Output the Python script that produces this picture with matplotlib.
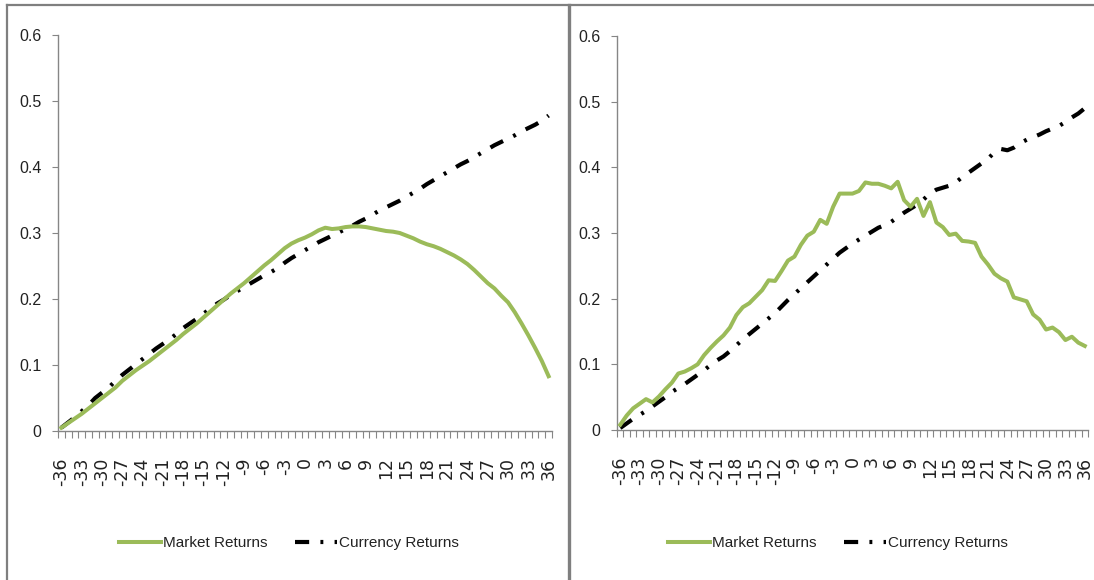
import numpy as np
import matplotlib
matplotlib.use("Agg")
import matplotlib.pyplot as plt
from matplotlib.lines import Line2D
from matplotlib.ticker import FixedLocator, FuncFormatter

# months relative to the event, -36 .. 36
months = list(range(-36, 37))

# panel 1
market_1 = [0.005, 0.012, 0.019, 0.026, 0.034, 0.042, 0.050, 0.058, 0.066, 0.076,
            0.084, 0.092, 0.099, 0.106, 0.114, 0.122, 0.130, 0.138, 0.147, 0.155,
            0.163, 0.172, 0.181, 0.190, 0.199, 0.208, 0.216, 0.224, 0.233, 0.242,
            0.251, 0.259, 0.268, 0.277, 0.284, 0.289, 0.293, 0.298, 0.304, 0.308,
            0.306, 0.307, 0.309, 0.310, 0.310, 0.309, 0.307, 0.305, 0.303, 0.302,
            0.300, 0.296, 0.292, 0.287, 0.283, 0.280, 0.276, 0.271, 0.266, 0.260,
            0.253, 0.244, 0.234, 0.224, 0.216, 0.205, 0.195, 0.180, 0.163, 0.145,
            0.126, 0.106, 0.083]
currency_1 = [0.005, 0.013, 0.021, 0.030, 0.039, 0.050, 0.058, 0.066, 0.076, 0.085,
              0.093, 0.101, 0.109, 0.117, 0.125, 0.132, 0.139, 0.147, 0.156, 0.163,
              0.170, 0.178, 0.185, 0.193, 0.199, 0.206, 0.212, 0.218, 0.224, 0.230,
              0.236, 0.241, 0.247, 0.255, 0.262, 0.268, 0.274, 0.280, 0.286, 0.291,
              0.296, 0.301, 0.306, 0.311, 0.317, 0.322, 0.328, 0.334, 0.339, 0.344,
              0.349, 0.355, 0.361, 0.367, 0.374, 0.380, 0.386, 0.392, 0.398, 0.404,
              0.409, 0.415, 0.421, 0.427, 0.433, 0.438, 0.443, 0.448, 0.454, 0.459,
              0.464, 0.470, 0.478]

# panel 2
market_2 = [0.008, 0.022, 0.033, 0.040, 0.047, 0.042, 0.051, 0.062, 0.072, 0.086,
            0.089, 0.094, 0.100, 0.114, 0.125, 0.135, 0.144, 0.156, 0.175, 0.187,
            0.193, 0.203, 0.213, 0.228, 0.227, 0.242, 0.258, 0.264, 0.282, 0.296,
            0.302, 0.320, 0.314, 0.340, 0.360, 0.360, 0.360, 0.364, 0.377, 0.375,
            0.375, 0.372, 0.368, 0.378, 0.350, 0.340, 0.352, 0.326, 0.347, 0.316,
            0.309, 0.297, 0.299, 0.288, 0.287, 0.285, 0.264, 0.252, 0.238, 0.231,
            0.226, 0.202, 0.199, 0.196, 0.176, 0.168, 0.153, 0.156, 0.149, 0.137,
            0.142, 0.133, 0.128]
currency_2 = [0.003, 0.010, 0.017, 0.023, 0.029, 0.036, 0.043, 0.050, 0.058, 0.064,
              0.070, 0.077, 0.084, 0.091, 0.099, 0.106, 0.112, 0.120, 0.129, 0.138,
              0.146, 0.154, 0.162, 0.170, 0.178, 0.188, 0.198, 0.207, 0.216, 0.225,
              0.234, 0.243, 0.252, 0.261, 0.270, 0.277, 0.284, 0.290, 0.296, 0.302,
              0.308, 0.312, 0.317, 0.324, 0.331, 0.337, 0.343, 0.351, 0.360, 0.366,
              0.369, 0.372, 0.377, 0.385, 0.392, 0.399, 0.406, 0.413, 0.423, 0.428,
              0.426, 0.430, 0.437, 0.442, 0.446, 0.450, 0.455, 0.459, 0.463, 0.469,
              0.476, 0.482, 0.490]

label_months = list(range(-36, 37, 3))
y_ticks = [0, 0.1, 0.2, 0.3, 0.4, 0.5, 0.6]

GREEN = "#9bbb59"
AXIS = "#868686"
BORDER = "#7f7f7f"
TEXT = "#222222"
SANS = ["Liberation Sans", "DejaVu Sans"]

W, H = 1094, 580
fig = plt.figure(figsize=(W / 100, H / 100), dpi=100)
fig.patch.set_facecolor("white")


def px_rect(x0, x1, ytop, ybot):
    return [x0 / W, 1 - ybot / H, (x1 - x0) / W, (ybot - ytop) / H]


def draw_panel(ax, market, currency, legend_x):
    ax.plot(months, market, color=GREEN, lw=2.9, solid_joinstyle="round",
            label="Market Returns", zorder=3)
    ax.plot(months, currency, color="black", lw=3.0,
            dashes=(3.4, 2.7, 0.7, 2.7), label="Currency Returns", zorder=2)

    ax.set_xlim(-36.5, 36.5)
    ax.set_ylim(0, 0.6)
    for s in ["top", "right"]:
        ax.spines[s].set_visible(False)
    for s in ["left", "bottom"]:
        ax.spines[s].set_color(AXIS)
        ax.spines[s].set_linewidth(1.0)

    ax.set_yticks(y_ticks)
    ax.yaxis.set_major_formatter(FuncFormatter(lambda v, p: "0" if v == 0 else "%.1f" % v))
    ax.tick_params(axis="y", direction="out", length=4, width=0.8, color=AXIS,
                   pad=8, labelsize=11.5, labelcolor=TEXT)
    for t in ax.get_yticklabels():
        t.set_family(SANS)

    # category ticks sit between the points, labels every 3 months
    ax.xaxis.set_minor_locator(FixedLocator(np.arange(-36.5, 37, 1.0)))
    ax.set_xticks(label_months)
    ax.set_xticklabels([str(m) for m in label_months], rotation=90)
    ax.tick_params(axis="x", which="major", length=0, pad=19, labelsize=12.5,
                   labelcolor=TEXT)
    ax.tick_params(axis="x", which="minor", direction="out", length=5, width=0.8,
                   color=AXIS)
    for t in ax.get_xticklabels():
        t.set_family("DejaVu Sans")
        t.set_va("top")

    leg = ax.legend(loc="center", bbox_to_anchor=(legend_x / W, 1 - 543 / H),
                    bbox_transform=fig.transFigure, ncol=2, frameon=False,
                    handlelength=2.75, handletextpad=0.15, columnspacing=1.75,
                    prop={"family": SANS, "size": 11})
    for t in leg.get_texts():
        t.set_color(TEXT)


ax1 = fig.add_axes(px_rect(58, 552, 35, 431))
draw_panel(ax1, market_1, currency_1, 289)

ax2 = fig.add_axes(px_rect(617, 1088, 36, 430))
draw_panel(ax2, market_2, currency_2, 838)


# chart area borders
def fig_line(xs, ys, lw):
    fig.add_artist(Line2D([x / W for x in xs], [1 - y / H for y in ys],
                          color=BORDER, lw=lw, transform=fig.transFigure))


fig_line([7, 7], [5, 580], 1.6)
fig_line([7, 1094], [5, 5], 1.6)
fig_line([568.5, 568.5], [5, 580], 2.4)

fig.savefig("out.png", dpi=100, facecolor="white")
